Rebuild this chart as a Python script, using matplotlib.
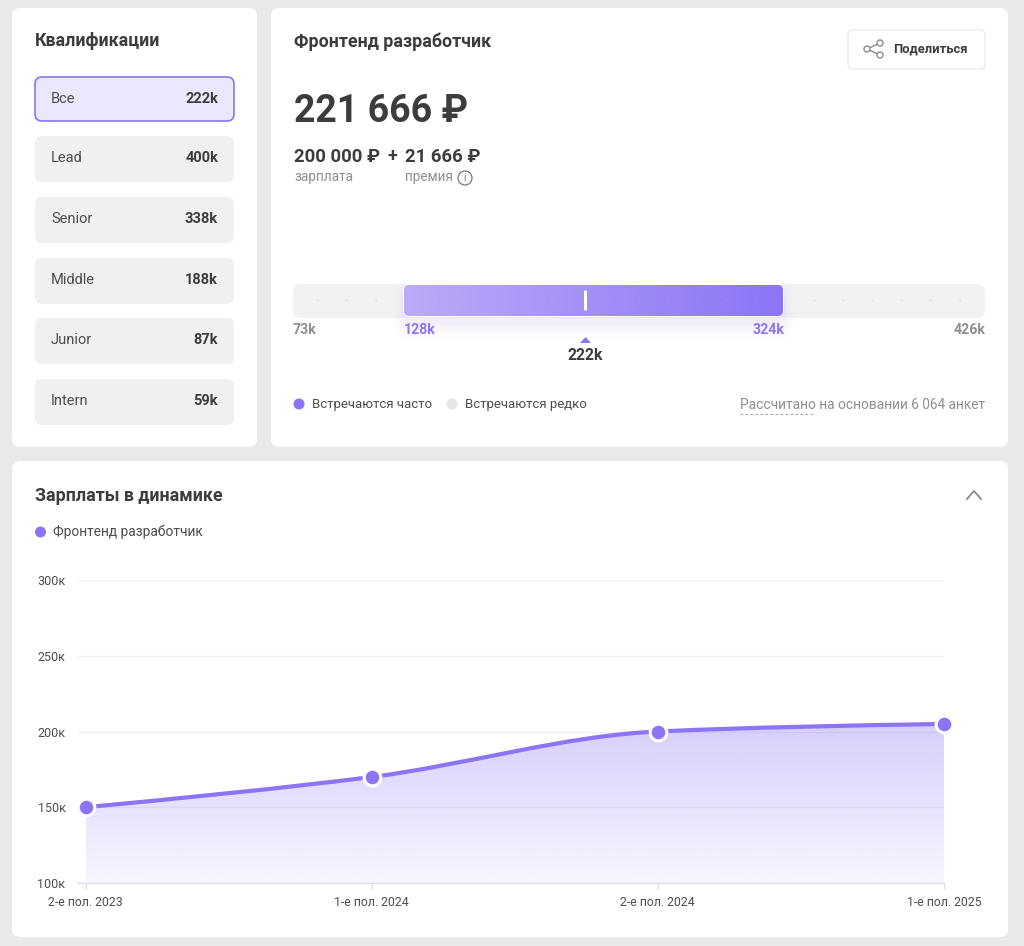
import matplotlib
matplotlib.use('Agg')
import matplotlib.pyplot as plt
import numpy as np
from matplotlib.patches import FancyBboxPatch, Circle, PathPatch, Polygon
from matplotlib.path import Path
from matplotlib.colors import LinearSegmentedColormap

plt.rcParams['font.family'] = ['Roboto', 'DejaVu Sans']

# data
grades = ['Все', 'Lead', 'Senior', 'Middle', 'Junior', 'Intern']
grade_values = ['222k', '400k', '338k', '188k', '87k', '59k']
gauge_min, gauge_low, gauge_mid, gauge_high, gauge_max = 73, 128, 222, 324, 426
periods = ['2-е пол. 2023', '1-е пол. 2024', '2-е пол. 2024', '1-е пол. 2025']
salaries = [150, 170, 200, 205]
y_ticks = [100, 150, 200, 250, 300]

PURPLE = '#8c74f5'
DARK = '#3c3c3c'
GREY = '#8f8f8f'
W, H = 1024, 946

fig = plt.figure(figsize=(W / 100, H / 100), dpi=100, facecolor='#e9e9e9')
bg = fig.add_axes([0, 0, 1, 1])
bg.set_xlim(0, W)
bg.set_ylim(H, 0)
bg.axis('off')


def box(x0, y0, x1, y1, r, fc, ec='none', lw=0, z=1, ax=bg):
    p = FancyBboxPatch((x0 + r, y0 + r), x1 - x0 - 2 * r, y1 - y0 - 2 * r,
                       boxstyle='round,pad=%f,rounding_size=%f' % (r, r),
                       fc=fc, ec=ec, lw=lw, zorder=z)
    ax.add_patch(p)
    return p


def txt(x, y, s, size, color=DARK, weight='normal', ha='left', z=5):
    return bg.text(x, y, s, fontsize=size, color=color, fontweight=weight,
                   ha=ha, va='center', zorder=z)


# cards
box(12, 8, 257, 447, 8, 'white')
box(271, 8, 1008, 447, 8, 'white')
box(12, 461, 1008, 937, 8, 'white')

# left card
txt(35, 41.5, 'Квалификации', 12.8, weight='bold')
tops = [77, 136, 197, 258, 318, 379]
for i, (g, v, t) in enumerate(zip(grades, grade_values, tops)):
    if i == 0:
        box(35, t, 234, t + 44, 7, '#ebe7fc', PURPLE, 1.2)
    else:
        box(35, t, 234, t + 46, 7, '#f0f0f0')
    txt(51, t + 22, g, 10.5, color='#4d4d4d')
    txt(218, t + 22, v, 10.5, weight='bold', ha='right')

# right card header
txt(294, 41.5, 'Фронтенд разработчик', 12.8, weight='bold')
box(848, 30, 985, 69, 5, 'white', '#e6e6e6', 0.8)
txt(893, 49, 'Поделиться', 9.4, weight='bold')
nodes = [(867, 49), (880, 43), (880, 55)]
for n in nodes[1:]:
    bg.plot([nodes[0][0], n[0]], [nodes[0][1], n[1]], color='#8a8a8a', lw=1, zorder=5)
for n in nodes:
    bg.add_patch(Circle(n, 3, fc='white', ec='#8a8a8a', lw=1, zorder=6))

txt(294, 111.5, '221 666 ₽', 27, weight='bold')
txt(294, 156.5, '200 000 ₽', 13.3, weight='bold')
txt(388, 156.5, '+', 13, weight='bold')
txt(405, 156.5, '21 666 ₽', 13.3, weight='bold')
txt(294, 177.5, 'зарплата', 9.8, color=GREY)
txt(405, 177.5, 'премия', 9.8, color=GREY)
bg.add_patch(Circle((465, 178), 7, fc='white', ec='#777777', lw=0.9, zorder=5))
txt(465, 178, 'i', 7.5, color='#777777', ha='center', z=6)

# gauge
bar_l, bar_r = 404, 783
box(293, 284, 985, 318, 8, '#f2f2f2')

# soft glow under the range
for grow, a in zip([18, 14, 11, 8, 5, 3], [0.008, 0.012, 0.015, 0.018, 0.022, 0.025]):
    box(bar_l - grow * 0.6, 285 - grow * 0.6 + 6, bar_r + grow * 0.6, 317 + grow + 4, 12,
        PURPLE, z=2).set_alpha(a)
for d in np.arange(318, 965, 29.2):
    inside = bar_l - 3 < d < bar_r + 3
    if not inside:
        bg.add_patch(Circle((d, 300.5), 1.2, fc='#e2e2e2', ec='none', zorder=3))
box(bar_l - 1, 284, bar_r + 1, 317, 6, 'white', z=3)
rng = box(bar_l, 285, bar_r, 316, 5, 'none', z=3)
cm = LinearSegmentedColormap.from_list('g', ['#bbaaf8', PURPLE])
im = bg.imshow(np.linspace(0, 1, 256)[None, :], cmap=cm, aspect='auto', zorder=4,
               extent=[bar_l, bar_r, 316, 285])
im.set_clip_path(rng)
bg.set_xlim(0, W)
bg.set_ylim(H, 0)
for d in np.arange(318, 965, 29.2):
    if bar_l + 3 < d < bar_r - 3 and abs(d - 585) > 8:
        bg.add_patch(Circle((d, 300.5), 1.2, fc='white', alpha=0.05, ec='none', zorder=5))
bg.add_patch(FancyBboxPatch((584, 290.5), 3, 20, boxstyle='round,pad=0,rounding_size=1.2',
                            fc='white', ec='none', zorder=5))

txt(293, 329.5, '%dk' % gauge_min, 10.2, color=GREY, weight='bold')
txt(404, 329.5, '%dk' % gauge_low, 10.2, color=PURPLE, weight='bold')
txt(784, 329.5, '%dk' % gauge_high, 10.2, color=PURPLE, weight='bold', ha='right')
txt(985, 329.5, '%dk' % gauge_max, 10.2, color=GREY, weight='bold', ha='right')
bg.add_patch(Polygon([(580, 343), (591, 343), (585.5, 337)], fc=PURPLE, ec='none', zorder=5))
txt(585.5, 355.5, '%dk' % gauge_mid, 11.3, weight='bold', ha='center')

bg.add_patch(Circle((299, 404), 5.5, fc=PURPLE, ec='none', zorder=5))
txt(312, 404.5, 'Встречаются часто', 9.5, color='#4d4d4d')
bg.add_patch(Circle((452, 404), 5.5, fc='#e6e6e6', ec='none', zorder=5))
txt(465, 404.5, 'Встречаются редко', 9.5, color='#4d4d4d')
txt(985, 404.5, 'Рассчитано на основании 6 064 анкет', 9.9, color=GREY, ha='right')
bg.plot([740, 813], [414, 414], color='#aaaaaa', lw=0.8, ls=(0, (2.5, 2)), zorder=5)

# bottom card header
txt(35, 495.5, 'Зарплаты в динамике', 12.8, weight='bold')
bg.plot([967, 974, 981], [499, 491, 499], color='#8a8a8a', lw=1.3, zorder=5)
bg.add_patch(Circle((40.5, 532), 5.5, fc=PURPLE, ec='none', zorder=5))
txt(53, 531.5, 'Фронтенд разработчик', 9.9, color='#4d4d4d')

# line chart
left, right, top, bottom = 78, 944, 580, 883
ax = fig.add_axes([left / W, 1 - bottom / H, (right - left) / W, (bottom - top) / H])
ax.patch.set_alpha(0)
xs = np.arange(len(salaries), dtype=float)
ys = np.array(salaries, dtype=float)

# monotone cubic through the values, as a bezier path
d = np.diff(ys)
m = np.zeros(len(ys))
m[1:-1] = 2 * d[:-1] * d[1:] / (d[:-1] + d[1:])
m[0] = (3 * d[0] - m[1]) / 2
m[-1] = (3 * d[-1] - m[-2]) / 2
verts = [(xs[0], ys[0])]
codes = [Path.MOVETO]
for i in range(len(xs) - 1):
    verts += [(xs[i] + 1 / 3, ys[i] + m[i] / 3), (xs[i + 1] - 1 / 3, ys[i + 1] - m[i + 1] / 3),
              (xs[i + 1], ys[i + 1])]
    codes += [Path.CURVE4] * 3
line_path = Path(verts, codes)
area_path = Path(verts + [(xs[-1], y_ticks[0]), (xs[0], y_ticks[0]), (xs[0], ys[0])],
                 codes + [Path.LINETO, Path.LINETO, Path.LINETO])

for t in y_ticks:
    ax.axhline(t, color='#f0f0f0', lw=1, zorder=1)

fade = np.zeros((256, 1, 4))
fade[..., :3] = matplotlib.colors.to_rgb(PURPLE)
fade[..., 3] = np.linspace(0.35, 0.07, 256)[:, None]
area = ax.imshow(fade, aspect='auto', origin='upper', zorder=2,
                 extent=[xs[0], xs[-1], y_ticks[0], max(salaries)])
area.set_clip_path(PathPatch(area_path, transform=ax.transData))

ax.add_patch(PathPatch(line_path, fc='none', ec=PURPLE, lw=3, zorder=3, capstyle='round'))
ax.plot(xs, ys, 'o', ms=12, mfc=PURPLE, mec='white', mew=2.2, zorder=4, clip_on=False)

ax.set_xlim(-(85.5 - left) / ((right - 85.5) / 3), 3)
ax.set_ylim(y_ticks[0], y_ticks[-1])
ax.set_xticks(xs)
ax.set_xticklabels(periods, fontsize=8.8, color='#4d4d4d')
ax.set_yticks(y_ticks)
ax.set_yticklabels(['%dк' % t for t in y_ticks], fontsize=9, color='#4d4d4d')
ax.tick_params(axis='x', length=4, width=0.8, color='#dddddd', pad=5)
ax.tick_params(axis='y', length=0, pad=9)
for s in ['top', 'left', 'right']:
    ax.spines[s].set_visible(False)
ax.spines['bottom'].set_color('#dfdde8')
ax.spines['bottom'].set_linewidth(1)

fig.savefig('out.png', dpi=100, facecolor=fig.get_facecolor())
